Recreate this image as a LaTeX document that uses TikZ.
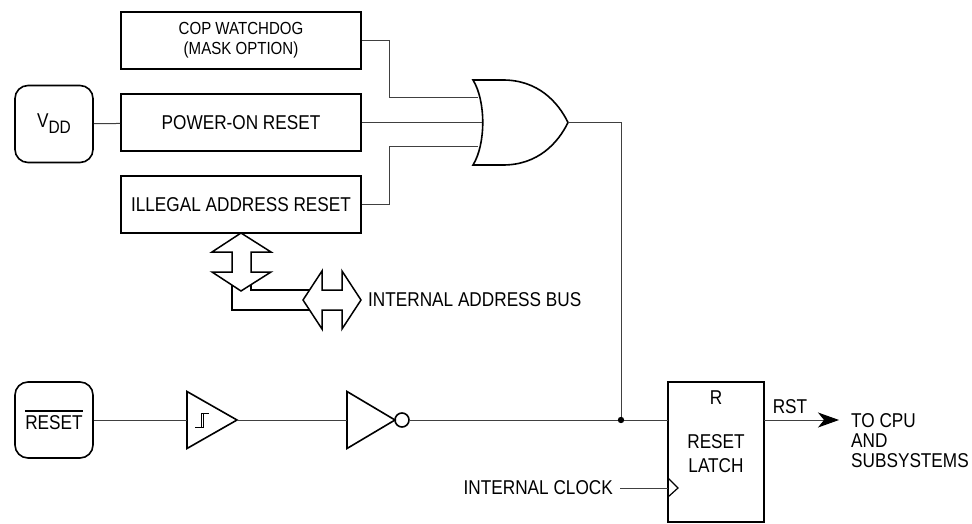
\documentclass[tikz,border=0pt]{standalone}
\usepackage{fontspec}
\setmainfont{Liberation Sans}[FakeStretch=0.86]
\usetikzlibrary{arrows.meta}
\newcommand{\txt}{\fontsize{20}{20}\selectfont}
\newcommand{\smalltxt}{\fontsize{17.5}{20}\selectfont}
\begin{document}
\begin{tikzpicture}[x=1pt,y=-1pt,
    box/.style={draw,line width=1.8pt,minimum width=240pt,minimum height=57pt,
      inner sep=0pt,font=\txt},
    rbox/.style={draw,line width=1.6pt,rounded corners=13pt,minimum width=78pt,
      minimum height=77pt,inner sep=0pt,font=\txt},
    wire/.style={line width=1pt,draw=black!75},
    gate/.style={line width=1.6pt,line join=miter},
    bus/.style={line width=1.5pt,fill=white,line join=miter},
    lbl/.style={inner sep=0pt,font=\txt}]
  \useasboundingbox (0,0) rectangle (972,524);
  % blocks
  \node[box,font=\smalltxt,align=center] (cop) at (241,40.5) {COP WATCHDOG\\(MASK OPTION)};
  \node[box] (por) at (241,122.5) {POWER-ON RESET};
  \node[box] (iar) at (241,204.5) {ILLEGAL ADDRESS RESET};
  \node[rbox] (vdd) at (54,124) {V\raisebox{-6pt}{\fontsize{18}{18}\selectfont DD}};
  \node[rbox,minimum height=76pt] (rstpin) at (54,420)
    {\vbox{\hrule height 1.2pt\kern 4pt\hbox{RESET}}};
  \node[draw,line width=1.8pt,minimum width=96pt,minimum height=140pt] (latch) at (716,452) {};
  \node[lbl] (r) at (716,398) {R};
  \node[lbl,align=center,font=\fontsize{20}{24}\selectfont] (latchtxt) at (716,454) {RESET\\LATCH};
  % or gate
  \draw[gate] (473,80) -- (503,80) .. controls (538,80) and (558,102) .. (568,122.5)
    .. controls (558,143) and (538,165) .. (503,165) -- (473,165)
    .. controls (486,144) and (486,101) .. (473,80) -- cycle;
  \coordinate (or1) at (478,98);
  \coordinate (or2) at (482,122.5);
  \coordinate (or3) at (478,147);
  \coordinate (orout) at (568,122.5);
  \coordinate (j1) at (389,98);
  \coordinate (j3) at (389,147);
  % schmitt buffer and inverter
  \draw[gate] (187,391.5) -- (237,420) -- (187,448.5) -- cycle;
  \draw[line width=1pt] (195,427) -- (203,427) -- (203,413)
    (201,427) -- (201,413) -- (209,413);
  \draw[gate] (347,391.5) -- (395,420) -- (347,448.5) -- cycle;
  \draw[gate] (402,420) circle (7pt);
  \coordinate (sin) at (187,420);
  \coordinate (sout) at (237,420);
  \coordinate (iin) at (347,420);
  \coordinate (iout) at (409,420);
  \coordinate (dot) at (621,420);
  \coordinate (lr) at (668,420);
  \coordinate (lq) at (764,420);
  \coordinate (lclk) at (668,488);
  % wires
  \draw[wire] (cop.east) -| (j1) -- (or1);
  \draw[wire] (iar.east) -| (j3) -- (or3);
  \draw[wire] (vdd) -- (por);
  \draw[wire] (por.east) -- (or2);
  \draw[wire] (orout) -| (dot);
  \draw[wire] (rstpin) -- (sin);
  \draw[wire] (sout) -- (iin);
  \draw[wire] (iout) -- (lr);
  \fill (dot) circle (3.2pt);
  % clock input
  \node[lbl,anchor=east] (clk) at (613,488) {INTERNAL CLOCK};
  \draw[wire] (620,488) -- (lclk);
  \draw[line width=1.2pt] (668,478) -- (678,488) -- (668,497);
  % output
  \node[lbl,anchor=west,align=left] (cpu) at (851,441) {TO CPU\\AND\\SUBSYSTEMS};
  \coordinate (tip) at (839,420);
  \draw[wire,-{Stealth[length=21pt,width=15pt,inset=6pt,color=black]}] (lq) -- (tip);
  \node[lbl] (rst) at (790,407) {RST};
  % address bus
  \draw[line width=1.5pt] (232,272) -- (232,310) -- (312,310)
    (251,272) -- (251,290) -- (312,290);
  \draw[bus] (241,233) -- (271,252) -- (251,252) -- (251,272) -- (271,272) -- (241,291)
    -- (212,272) -- (232,272) -- (232,252) -- (212,252) -- cycle;
  \draw[bus] (303,300) -- (322,271) -- (322,290) -- (342,290) -- (342,271) -- (361,300)
    -- (342,329) -- (342,310) -- (322,310) -- (322,329) -- cycle;
  \node[lbl,anchor=west] (bus) at (368,300) {INTERNAL ADDRESS BUS};
\end{tikzpicture}
\end{document}
